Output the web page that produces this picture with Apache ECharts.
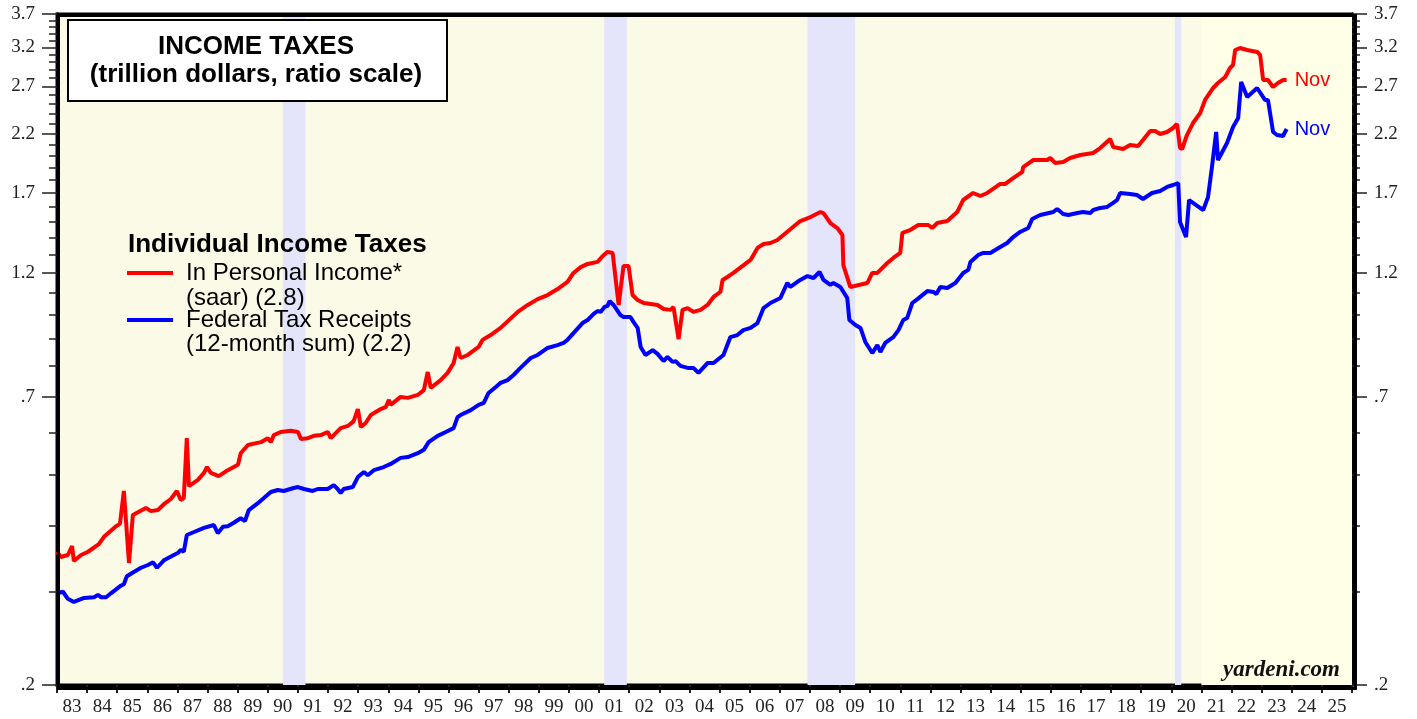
<!DOCTYPE html>
<html>
<head>
<meta charset="utf-8">
<script src="https://cdn.jsdelivr.net/npm/echarts@6/dist/echarts.min.js"></script>
<style>
  html, body { margin: 0; padding: 0; background: #fff; }
  #main { width: 1417px; height: 719px; }
</style>
</head>
<body>
<div id="main"></div>
<script>
// Individual income taxes in personal income (saar), trillion $
const redYears = [
  1983.00, 1983.13, 1983.36, 1983.50, 1983.56, 1983.80, 1984.03, 1984.39, 1984.56, 1984.96,
  1985.09, 1985.22, 1985.39, 1985.52, 1985.95, 1986.12, 1986.35, 1986.55, 1986.78, 1986.98,
  1987.11, 1987.21, 1987.31, 1987.38, 1987.68, 1987.88, 1987.98, 1988.11, 1988.37, 1988.67,
  1989.01, 1989.10, 1989.34, 1989.77, 1990.00, 1990.10, 1990.20, 1990.43, 1990.76, 1991.00,
  1991.10, 1991.33, 1991.53, 1991.76, 1991.99, 1992.09, 1992.42, 1992.66, 1992.85, 1992.99,
  1993.09, 1993.25, 1993.42, 1993.75, 1993.92, 1994.02, 1994.08, 1994.41, 1994.65, 1994.98,
  1995.18, 1995.31, 1995.41, 1995.74, 1995.97, 1996.17, 1996.30, 1996.40, 1996.64, 1997.00,
  1997.13, 1997.40, 1997.73, 1998.30, 1998.63, 1998.96, 1999.29, 1999.62, 1999.95, 2000.15,
  2000.39, 2000.62, 2000.95, 2001.12, 2001.28, 2001.45, 2001.48, 2001.65, 2001.81, 2001.98,
  2002.11, 2002.28, 2002.48, 2002.94, 2003.14, 2003.37, 2003.47, 2003.64, 2003.77, 2003.94,
  2004.13, 2004.37, 2004.60, 2004.80, 2005.03, 2005.10, 2005.26, 2005.46, 2006.03, 2006.26,
  2006.46, 2006.69, 2006.92, 2007.68, 2008.02, 2008.35, 2008.45, 2008.68, 2008.91, 2009.08,
  2009.11, 2009.34, 2009.91, 2010.07, 2010.24, 2010.57, 2010.77, 2011.00, 2011.07, 2011.33,
  2011.60, 2011.93, 2012.06, 2012.23, 2012.56, 2012.89, 2013.09, 2013.42, 2013.66, 2013.89,
  2014.32, 2014.49, 2014.75, 2015.05, 2015.08, 2015.42, 2015.88, 2015.98, 2016.15, 2016.41,
  2016.64, 2016.98, 2017.41, 2017.64, 2017.97, 2018.07, 2018.40, 2018.63, 2018.90, 2019.06,
  2019.30, 2019.46, 2019.63, 2019.86, 2020.06, 2020.19, 2020.29, 2020.36, 2020.52, 2020.72,
  2020.96, 2021.12, 2021.39, 2021.55, 2021.79, 2021.95, 2022.05, 2022.12, 2022.28, 2022.52,
  2022.85, 2022.95, 2023.05, 2023.21, 2023.38, 2023.54, 2023.71, 2023.83
];
const redValues = [
  0.357, 0.349, 0.352, 0.366, 0.343, 0.352, 0.357, 0.369, 0.381, 0.399,
  0.403, 0.465, 0.340, 0.419, 0.432, 0.426, 0.428, 0.439, 0.449, 0.465,
  0.447, 0.451, 0.585, 0.475, 0.488, 0.503, 0.516, 0.503, 0.496, 0.509,
  0.521, 0.548, 0.568, 0.575, 0.585, 0.575, 0.593, 0.601, 0.604, 0.601,
  0.583, 0.585, 0.591, 0.593, 0.601, 0.585, 0.611, 0.617, 0.630, 0.664,
  0.614, 0.625, 0.647, 0.664, 0.670, 0.691, 0.676, 0.700, 0.697, 0.706,
  0.721, 0.780, 0.728, 0.753, 0.777, 0.811, 0.870, 0.829, 0.840, 0.870,
  0.897, 0.916, 0.945, 1.013, 1.044, 1.071, 1.090, 1.119, 1.154, 1.200,
  1.231, 1.248, 1.259, 1.292, 1.315, 1.309, 1.298, 1.044, 1.237, 1.237,
  1.090, 1.067, 1.053, 1.044, 1.026, 1.022, 1.035, 0.900, 1.022, 1.030,
  1.013, 1.022, 1.044, 1.081, 1.105, 1.164, 1.179, 1.200, 1.270, 1.338,
  1.361, 1.367, 1.385, 1.504, 1.530, 1.564, 1.557, 1.491, 1.459, 1.415,
  1.242, 1.129, 1.149, 1.200, 1.200, 1.253, 1.281, 1.309, 1.428, 1.446,
  1.478, 1.478, 1.459, 1.491, 1.504, 1.564, 1.648, 1.699, 1.677, 1.699,
  1.767, 1.767, 1.813, 1.861, 1.902, 1.961, 1.961, 1.978, 1.936, 1.944,
  1.978, 2.004, 2.022, 2.066, 2.149, 2.075, 2.057, 2.093, 2.084, 2.139,
  2.225, 2.225, 2.196, 2.215, 2.254, 2.294, 2.066, 2.057, 2.186, 2.303,
  2.406, 2.546, 2.682, 2.741, 2.813, 2.926, 2.964, 3.164, 3.191, 3.164,
  3.137, 3.096, 2.777, 2.777, 2.694, 2.741, 2.777, 2.777
];

// Federal individual income tax receipts, 12-month sum, trillion $
const blueYears = [
  1983.00, 1983.20, 1983.36, 1983.56, 1983.90, 1984.23, 1984.36, 1984.46, 1984.63, 1984.79,
  1985.12, 1985.22, 1985.32, 1985.55, 1985.79, 1986.02, 1986.19, 1986.32, 1986.55, 1986.88,
  1987.01, 1987.11, 1987.21, 1987.31, 1987.55, 1987.88, 1988.21, 1988.34, 1988.51, 1988.67,
  1988.87, 1989.10, 1989.24, 1989.37, 1989.67, 1989.87, 1990.10, 1990.33, 1990.53, 1990.86,
  1991.00, 1991.20, 1991.49, 1991.66, 1991.99, 1992.19, 1992.32, 1992.42, 1992.52, 1992.82,
  1992.99, 1993.19, 1993.32, 1993.52, 1993.85, 1994.08, 1994.41, 1994.65, 1994.98, 1995.18,
  1995.34, 1995.64, 1995.91, 1996.17, 1996.30, 1996.40, 1996.74, 1997.00, 1997.17, 1997.33,
  1997.57, 1997.73, 1997.96, 1998.16, 1998.39, 1998.73, 1998.96, 1999.29, 1999.62, 1999.82,
  1999.95, 2000.15, 2000.45, 2000.62, 2000.82, 2000.95, 2001.05, 2001.18, 2001.28, 2001.35,
  2001.48, 2001.71, 2001.81, 2002.04, 2002.14, 2002.28, 2002.38, 2002.54, 2002.78, 2002.94,
  2003.14, 2003.27, 2003.44, 2003.54, 2003.70, 2003.94, 2004.13, 2004.30, 2004.60, 2004.80,
  2005.13, 2005.36, 2005.59, 2005.79, 2006.03, 2006.26, 2006.46, 2006.69, 2007.02, 2007.25,
  2007.35, 2007.68, 2007.92, 2008.12, 2008.32, 2008.45, 2008.68, 2008.78, 2009.01, 2009.24,
  2009.31, 2009.51, 2009.68, 2009.84, 2010.07, 2010.24, 2010.34, 2010.50, 2010.77, 2010.94,
  2011.10, 2011.23, 2011.40, 2011.57, 2011.90, 2012.10, 2012.20, 2012.33, 2012.56, 2012.83,
  2013.09, 2013.26, 2013.33, 2013.59, 2013.76, 2013.99, 2014.32, 2014.55, 2014.75, 2014.98,
  2015.25, 2015.38, 2015.65, 2016.08, 2016.21, 2016.41, 2016.58, 2016.88, 2017.07, 2017.31,
  2017.41, 2017.64, 2017.87, 2018.07, 2018.20, 2018.30, 2018.63, 2018.86, 2019.06, 2019.36,
  2019.63, 2019.86, 2020.06, 2020.23, 2020.29, 2020.49, 2020.59, 2020.86, 2021.06, 2021.22,
  2021.35, 2021.49, 2021.55, 2021.85, 2022.05, 2022.22, 2022.32, 2022.52, 2022.85, 2023.11,
  2023.21, 2023.38, 2023.51, 2023.71, 2023.83
];
const blueValues = [
  0.298, 0.300, 0.291, 0.287, 0.292, 0.293, 0.296, 0.293, 0.293, 0.298,
  0.308, 0.310, 0.321, 0.327, 0.333, 0.337, 0.341, 0.333, 0.344, 0.352,
  0.355, 0.360, 0.357, 0.384, 0.389, 0.396, 0.401, 0.387, 0.398, 0.399,
  0.405, 0.413, 0.408, 0.428, 0.441, 0.451, 0.463, 0.467, 0.465, 0.471,
  0.473, 0.469, 0.465, 0.469, 0.469, 0.477, 0.469, 0.461, 0.469, 0.473,
  0.494, 0.505, 0.498, 0.509, 0.516, 0.523, 0.537, 0.539, 0.548, 0.556,
  0.575, 0.591, 0.601, 0.611, 0.641, 0.647, 0.661, 0.676, 0.682, 0.712,
  0.731, 0.744, 0.753, 0.770, 0.794, 0.829, 0.840, 0.866, 0.877, 0.885,
  0.897, 0.924, 0.965, 0.978, 1.004, 1.017, 1.013, 1.035, 1.040, 1.062,
  1.044, 0.999, 0.991, 0.991, 0.970, 0.945, 0.870, 0.840, 0.858, 0.844,
  0.818, 0.833, 0.815, 0.818, 0.801, 0.794, 0.794, 0.777, 0.811, 0.811,
  0.840, 0.908, 0.916, 0.936, 0.945, 0.965, 1.030, 1.053, 1.076, 1.149,
  1.129, 1.164, 1.184, 1.174, 1.205, 1.164, 1.139, 1.149, 1.129, 1.076,
  0.978, 0.957, 0.945, 0.889, 0.847, 0.877, 0.851, 0.885, 0.908, 0.936,
  0.978, 0.987, 1.053, 1.071, 1.109, 1.105, 1.095, 1.129, 1.124, 1.149,
  1.200, 1.216, 1.259, 1.298, 1.309, 1.309, 1.343, 1.367, 1.403, 1.434,
  1.459, 1.517, 1.544, 1.564, 1.585, 1.551, 1.544, 1.557, 1.564, 1.557,
  1.578, 1.592, 1.599, 1.627, 1.648, 1.699, 1.692, 1.684, 1.655, 1.699,
  1.714, 1.744, 1.759, 1.774, 1.498, 1.403, 1.648, 1.606, 1.578, 1.670,
  1.902, 2.215, 1.961, 2.112, 2.264, 2.354, 2.753, 2.579, 2.682, 2.546,
  2.546, 2.215, 2.186, 2.177, 2.244
];

// recessions (start, end) in decimal years
const recessions = [[1990.50, 1991.25], [2001.17, 2001.92], [2007.92, 2009.50], [2020.12, 2020.33]];

const yMajorTicks = [0.2, 0.7, 1.2, 1.7, 2.2, 2.7, 3.2, 3.7];
const yMinorTicks = [0.2, 0.3, 0.4, 0.5, 0.6, 0.7, 0.8, 0.9, 1.0, 1.1, 1.2, 1.3, 1.4, 1.5, 1.6,
  1.7, 1.8, 1.9, 2.0, 2.1, 2.2, 2.3, 2.4, 2.5, 2.6, 2.7, 2.8, 2.9, 3.0, 3.1, 3.2, 3.3, 3.4,
  3.5, 3.6, 3.7];
const yearTicks = [];
const yearLabels = [];
for (let y = 1983; y <= 2026; y++) {
  yearTicks.push(y);
  if (y < 2026) yearLabels.push(y + 0.5);
}

const serif = '"Liberation Serif", "Times New Roman", serif';
const sans = '"Liberation Sans", Arial, sans-serif';

function fmtY(v) {
  const r = Math.round(v * 10) / 10;
  return r < 1 ? '.' + Math.round(r * 10) : r.toFixed(1);
}

function yAxisDef(position, ticks, len, labels) {
  return {
    type: 'log',
    logBase: 10,
    min: 0.2,
    max: 3.7,
    position: position,
    axisLine: { show: true, lineStyle: { color: '#000', width: 3 } },
    splitLine: { show: false },
    axisTick: {
      show: true, inside: false, length: len, customValues: ticks,
      lineStyle: { color: '#222', width: 1.5 }
    },
    axisLabel: labels ? {
      show: true, customValues: yMajorTicks, margin: 22,
      formatter: fmtY, color: '#222', fontFamily: serif, fontSize: 19
    } : { show: false }
  };
}

const chart = echarts.init(document.getElementById('main'));

const bands = recessions.map(r => [
  { xAxis: r[0], itemStyle: { color: '#e4e4fb' } },
  { xAxis: r[1] }
]);
bands.unshift([{ xAxis: 2021, itemStyle: { color: '#fffee6' } }, { xAxis: 2026 }]);

chart.setOption({
  animation: false,
  grid: {
    left: 57, right: 65, top: 14, bottom: 34,
    show: true, backgroundColor: '#fafae6', borderColor: '#000', borderWidth: 3
  },
  xAxis: {
    type: 'value',
    min: 1983,
    max: 2026,
    axisLine: { show: true, onZero: false, lineStyle: { color: '#000', width: 3 } },
    splitLine: { show: false },
    axisTick: { show: true, customValues: yearTicks, length: 8, lineStyle: { color: '#222', width: 2 } },
    axisLabel: {
      customValues: yearLabels, margin: 13, color: '#222', fontFamily: serif, fontSize: 19,
      formatter: v => String(Math.floor(v) % 100).padStart(2, '0')
    }
  },
  yAxis: [
    yAxisDef('left', yMajorTicks, 15, true),
    yAxisDef('left', yMinorTicks, 8, false),
    yAxisDef('right', yMajorTicks, 15, true),
    yAxisDef('right', yMinorTicks, 8, false)
  ],
  series: [
    {
      name: 'bands',
      type: 'line',
      data: [],
      z: 1,
      silent: true,
      markArea: { silent: true, data: bands }
    },
    {
      name: 'Federal Tax Receipts',
      type: 'line',
      z: 3,
      showSymbol: false,
      data: blueYears.map((y, i) => [y, blueValues[i]]),
      lineStyle: { color: '#0000ff', width: 4 },
      itemStyle: { color: '#0000ff' },
      endLabel: { show: true, formatter: 'Nov', color: '#0000ff', fontFamily: sans, fontSize: 20, distance: 8 }
    },
    {
      name: 'In Personal Income',
      type: 'line',
      z: 4,
      showSymbol: false,
      data: redYears.map((y, i) => [y, redValues[i]]),
      lineStyle: { color: '#ff0000', width: 4 },
      itemStyle: { color: '#ff0000' },
      endLabel: { show: true, formatter: 'Nov', color: '#ff0000', fontFamily: sans, fontSize: 20, distance: 8 }
    }
  ],
  graphic: [
    {
      // plot frame drawn above the shaded bands
      type: 'rect', left: 56, top: 13, z: 20, silent: true,
      shape: { width: 1297, height: 673 },
      style: { fill: null, stroke: '#000', lineWidth: 3 }
    },
    {
      type: 'rect', left: 67, top: 19, z: 10,
      shape: { width: 379, height: 81 },
      style: { fill: '#fff', stroke: '#000', lineWidth: 2 }
    },
    {
      type: 'text', z: 11, x: 256, y: 47,
      style: { text: 'INCOME TAXES', font: 'bold 26px ' + sans, fill: '#000', align: 'center', verticalAlign: 'middle' }
    },
    {
      type: 'text', z: 11, x: 256, y: 75,
      style: { text: '(trillion dollars, ratio scale)', font: 'bold 26px ' + sans, fill: '#000', align: 'center', verticalAlign: 'middle' }
    },
    {
      type: 'text', z: 11, x: 128, y: 245,
      style: { text: 'Individual Income Taxes', font: 'bold 26px ' + sans, fill: '#000', verticalAlign: 'middle' }
    },
    {
      type: 'line', z: 11, shape: { x1: 127, y1: 273, x2: 173, y2: 273 },
      style: { stroke: '#ff0000', lineWidth: 4 }
    },
    {
      type: 'text', z: 11, x: 186, y: 273,
      style: { text: 'In Personal Income*', font: '24px ' + sans, fill: '#000', verticalAlign: 'middle' }
    },
    {
      type: 'text', z: 11, x: 186, y: 298,
      style: { text: '(saar) (2.8)', font: '24px ' + sans, fill: '#000', verticalAlign: 'middle' }
    },
    {
      type: 'line', z: 11, shape: { x1: 127, y1: 320, x2: 173, y2: 320 },
      style: { stroke: '#0000ff', lineWidth: 4 }
    },
    {
      type: 'text', z: 11, x: 186, y: 320,
      style: { text: 'Federal Tax Receipts', font: '24px ' + sans, fill: '#000', verticalAlign: 'middle' }
    },
    {
      type: 'text', z: 11, x: 186, y: 344,
      style: { text: '(12-month sum) (2.2)', font: '24px ' + sans, fill: '#000', verticalAlign: 'middle' }
    },
    {
      type: 'text', z: 11, x: 1340, y: 670,
      style: { text: 'yardeni.com', font: 'italic bold 23px ' + serif, fill: '#111', align: 'right', verticalAlign: 'middle' }
    }
  ]
});
</script>
</body>
</html>
